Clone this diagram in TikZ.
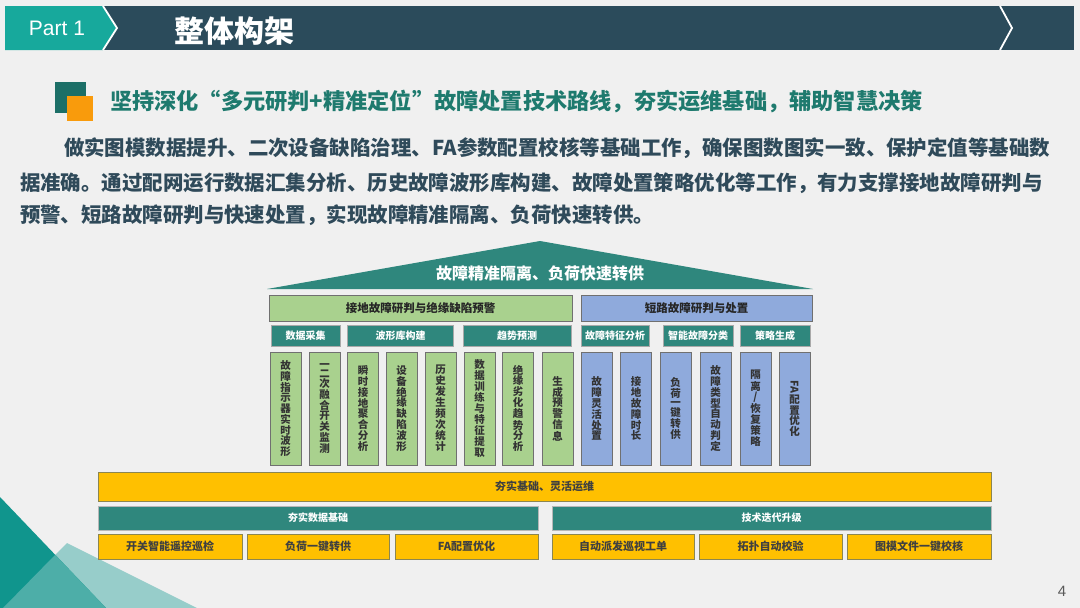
\documentclass[tikz,border=0pt]{standalone}
\usepackage{fontspec}
\usepackage{graphicx}
\setmainfont{Noto Sans CJK SC}
\newfontfamily\latinfont{Liberation Sans}
\definecolor{bgc}{HTML}{F0F0F0}
\definecolor{hdark}{HTML}{2B4B5B}
\definecolor{hteal}{HTML}{17A99C}
\definecolor{sqdark}{HTML}{1C6F67}
\definecolor{sqorange}{HTML}{F99B0C}
\definecolor{subc}{HTML}{1E7A6E}
\definecolor{parac}{HTML}{2F4A5A}
\definecolor{tealbox}{HTML}{2F877D}
\definecolor{greenbox}{HTML}{A9D18E}
\definecolor{bluebox}{HTML}{8FAADC}
\definecolor{yellowbox}{HTML}{FFC000}
\definecolor{yborder}{HTML}{8C8650}
\definecolor{gborder}{HTML}{707070}
\definecolor{tridark}{HTML}{10958D}
\definecolor{trilight}{HTML}{97CDCA}
\definecolor{trimid}{HTML}{4DAEA8}
\tikzset{
  plain/.style={inner sep=0pt, outer sep=0pt},
  hdrbox/.style={plain, draw=gborder, line width=0.8pt, anchor=north west, font=\fontsize{11.5}{12}\selectfont\bfseries, text=black!85},
  subbox/.style={plain, draw=gborder!60, line width=0.6pt, fill=tealbox, anchor=north west, minimum height=21pt, font=\fontsize{10}{11}\selectfont\bfseries, text=white},
  colbox/.style={plain, draw=gborder, line width=0.7pt, anchor=north west, minimum width=31pt, minimum height=113pt, align=center, font=\fontsize{10.5}{9.3}\selectfont\bfseries, text=black!80},
  ybox/.style={plain, draw=yborder, line width=0.8pt, fill=yellowbox, anchor=north west, font=\fontsize{11}{12}\selectfont\bfseries, text=black!75},
  tbar/.style={plain, draw=gborder!50, line width=0.6pt, fill=tealbox, anchor=north west, minimum height=24pt, font=\fontsize{10}{11}\selectfont\bfseries, text=white},
}
\begin{document}
\begin{tikzpicture}[x=1pt,y=-1pt]
\useasboundingbox (0,0) rectangle (1080,608);
\fill[bgc] (0,0) rectangle (1080,608);
% bottom-left triangles
\fill[trilight] (67,543) -- (197,608) -- (3,608) -- cycle;
\fill[tridark] (0,497) -- (106,608) -- (0,608) -- cycle;
\fill[trimid] (55.2,554.8) -- (106,608) -- (3,608) -- cycle;
% header bar
\fill[hdark] (5,6) rectangle (1074,50);
\fill[hteal] (5,6) -- (103,6) -- (117,28) -- (103,50) -- (5,50) -- cycle;
\draw[white, line width=1.8pt] (103,6) -- (117,28) -- (103,50);
\draw[white, line width=1.8pt] (1000,6) -- (1012,28) -- (1000,50);
\node[plain, text=white, font=\latinfont\fontsize{21}{22}\selectfont] (part) at (57,28) {Part 1};
\node[plain, text=white, font=\fontsize{30}{32}\selectfont\bfseries] (title) at (234,31) {整体构架};
% subtitle
\fill[sqdark] (55,82) rectangle (86,113);
\fill[sqorange] (67,96) rectangle (93,121);
\node[plain, anchor=west, text=subc, font=\fontsize{22.2}{24}\selectfont\bfseries] (sub) at (110,102) {坚持深化“多元研判+精准定位"故障处置技术路线，夯实运维基础，辅助智慧决策};
% paragraph
\begin{scope}[every node/.style={plain, anchor=west, text=parac, font=\fontsize{20.45}{22}\selectfont\bfseries}]
\node (p1) at (64,148) {做实图模数据提升、二次设备缺陷治理、FA参数配置校核等基础工作，确保图数图实一致、保护定值等基础数};
\node (p2) at (20,183) {据准确。通过配网运行数据汇集分析、历史故障波形库构建、故障处置策略优化等工作，有力支撑接地故障研判与};
\node (p3) at (20,215) {预警、短路故障研判与快速处置，实现故障精准隔离、负荷快速转供。};
\end{scope}
% roof
\fill[tealbox] (267,289) -- (540,241) -- (813,289) -- cycle;
\node[plain, text=white, font=\fontsize{16}{18}\selectfont\bfseries] (roof) at (540,273) {故障精准隔离、负荷快速转供};
% headers
\node[hdrbox, fill=greenbox, minimum width=303pt, minimum height=26pt] (gh) at (269,295) {接地故障研判与绝缘缺陷预警};
\node[hdrbox, fill=bluebox, minimum width=231pt, minimum height=26pt] (bh) at (581,295) {短路故障研判与处置};
% sub boxes
\node[subbox, minimum width=69pt] (s1) at (271,325) {数据采集};
\node[subbox, minimum width=106pt] (s2) at (347.5,325) {波形库构建};
\node[subbox, minimum width=108pt] (s3) at (463,325) {趋势预测};
\node[subbox, minimum width=68pt] (s4) at (581,325) {故障特征分析};
\node[subbox, minimum width=70pt] (s5) at (663,325) {智能故障分类};
\node[subbox, minimum width=70pt] (s6) at (740,325) {策略生成};
% columns
\node[colbox, fill=greenbox] (c1) at (270,352) {故\\障\\指\\示\\器\\实\\时\\波\\形};
\node[colbox, fill=greenbox] (c2) at (309,352) {一\\二\\次\\融\\合\\开\\关\\监\\测};
\node[colbox, fill=greenbox] (c3) at (347.5,352) {瞬\\时\\接\\地\\聚\\合\\分\\析};
\node[colbox, fill=greenbox] (c4) at (386,352) {设\\备\\绝\\缘\\缺\\陷\\波\\形};
\node[colbox, fill=greenbox] (c5) at (425,352) {历\\史\\发\\生\\频\\次\\统\\计};
\node[colbox, fill=greenbox] (c6) at (464,352) {数\\据\\训\\练\\与\\特\\征\\提\\取};
\node[colbox, fill=greenbox] (c7) at (502.5,352) {绝\\缘\\劣\\化\\趋\\势\\分\\析};
\node[colbox, fill=greenbox] (c8) at (542,352) {生\\成\\预\\警\\信\\息};
\node[colbox, fill=bluebox] (c9) at (581,352) {故\\障\\灵\\活\\处\\置};
\node[colbox, fill=bluebox] (c10) at (620.5,352) {接\\地\\故\\障\\时\\长};
\node[colbox, fill=bluebox] (c11) at (660,352) {负\\荷\\一\\键\\转\\供};
\node[colbox, fill=bluebox] (c12) at (700,352) {故\\障\\类\\型\\自\\动\\判\\定};
\node[colbox, fill=bluebox] (c13) at (740,352) {隔\\离\\/\\恢\\复\\策\\略};
\node[colbox, fill=bluebox] (c14) at (779,352) {\rotatebox{-90}{FA}\\[1pt]配\\置\\优\\化};
% foundation
\node[ybox, minimum width=893pt, minimum height=29pt] (base) at (98,472) {夯实基础、灵活运维};
\node[tbar, minimum width=440pt] (t1) at (98,506) {夯实数据基础};
\node[tbar, minimum width=439pt] (t2) at (552,506) {技术迭代升级};
\node[ybox, minimum width=144pt, minimum height=25pt] (b1) at (98,534) {开关智能遥控巡检};
\node[ybox, minimum width=142pt, minimum height=25pt] (b2) at (247,534) {负荷一键转供};
\node[ybox, minimum width=143pt, minimum height=25pt] (b3) at (395,534) {FA配置优化};
\node[ybox, minimum width=142pt, minimum height=25pt] (b4) at (552,534) {自动派发巡视工单};
\node[ybox, minimum width=143pt, minimum height=25pt] (b5) at (699,534) {拓扑自动校验};
\node[ybox, minimum width=144pt, minimum height=25pt] (b6) at (847,534) {图模文件一键校核};
% page number
\node[plain, text=black!65, font=\latinfont\fontsize{15}{16}\selectfont] (pg) at (1062,591) {4};
\end{tikzpicture}
\end{document}
